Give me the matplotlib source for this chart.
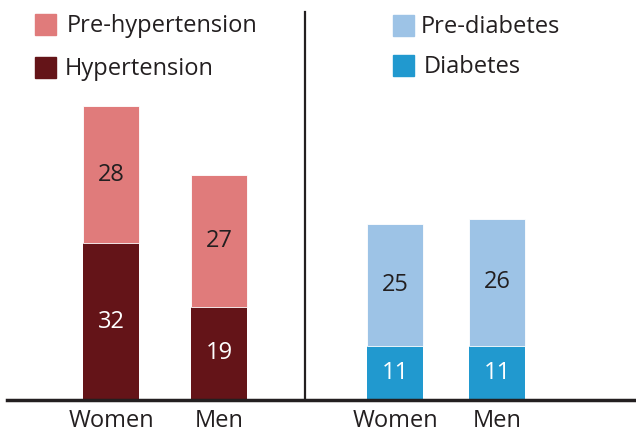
import matplotlib.pyplot as plt
from matplotlib.patches import Rectangle

plt.rcParams["font.family"] = ["Open Sans", "DejaVu Sans"]

W, H = 636, 432

groups = ["Women", "Men"]
pre_hyper = [28, 27]
hyper = [32, 19]
pre_diab = [25, 26]
diab = [11, 11]

C_PRE_HYPER = "#E07B7B"
C_HYPER = "#641418"
C_PRE_DIAB = "#9DC3E6"
C_DIAB = "#2199CF"
TEXT = "#231F20"

PX_PER_UNIT = 4.9
BASE_PX = 400  # baseline, px from top


def fx(px):
    return px / W


def fy(py):
    return 1 - py / H


fig = plt.figure(figsize=(W / 100, H / 100), dpi=100)
ax = fig.add_axes([0, 0, 1, 1])
ax.set_xlim(0, W)
ax.set_ylim(-(H - BASE_PX) / PX_PER_UNIT, BASE_PX / PX_PER_UNIT)
ax.axis("off")

left_x = [111, 219]
right_x = [395, 497]
bw = 56

ax.bar(left_x, hyper, width=bw, color=C_HYPER)
ax.bar(left_x, pre_hyper, width=bw, bottom=hyper, color=C_PRE_HYPER,
       edgecolor="white", linewidth=0.6)
ax.bar(right_x, diab, width=bw, color=C_DIAB)
ax.bar(right_x, pre_diab, width=bw, bottom=diab, color=C_PRE_DIAB,
       edgecolor="white", linewidth=0.6)

fs = 17
for xs, low, high in [(left_x, hyper, pre_hyper), (right_x, diab, pre_diab)]:
    for x, lo, hi in zip(xs, low, high):
        ax.text(x, lo / 2, str(lo), ha="center", va="center", color="white", fontsize=fs)
        ax.text(x, lo + hi / 2, str(hi), ha="center", va="center", color=TEXT, fontsize=fs)
    for x, g in zip(xs, groups):
        ax.text(x, -21 / PX_PER_UNIT, g, ha="center", va="center", color=TEXT, fontsize=fs)

# baseline and divider
ax.axhline(0, xmin=fx(7), xmax=1, color=TEXT, linewidth=2.5)
ax.plot([305, 305], [0, (BASE_PX - 12) / PX_PER_UNIT], color=TEXT, linewidth=1.6)

# legends
legend_items = [
    (35, 14, C_PRE_HYPER, 67, "Pre-hypertension"),
    (35, 57, C_HYPER, 65, "Hypertension"),
    (393, 15, C_PRE_DIAB, 421, "Pre-diabetes"),
    (393, 55, C_DIAB, 424, "Diabetes"),
]
for sx, sy, col, tx, label in legend_items:
    fig.patches.append(Rectangle((fx(sx), fy(sy + 21)), 21 / W, 21 / H,
                                 transform=fig.transFigure, color=col))
    fig.text(fx(tx), fy(sy + 12), label, ha="left", va="center", color=TEXT, fontsize=fs)

fig.savefig("out.png", dpi=100)
